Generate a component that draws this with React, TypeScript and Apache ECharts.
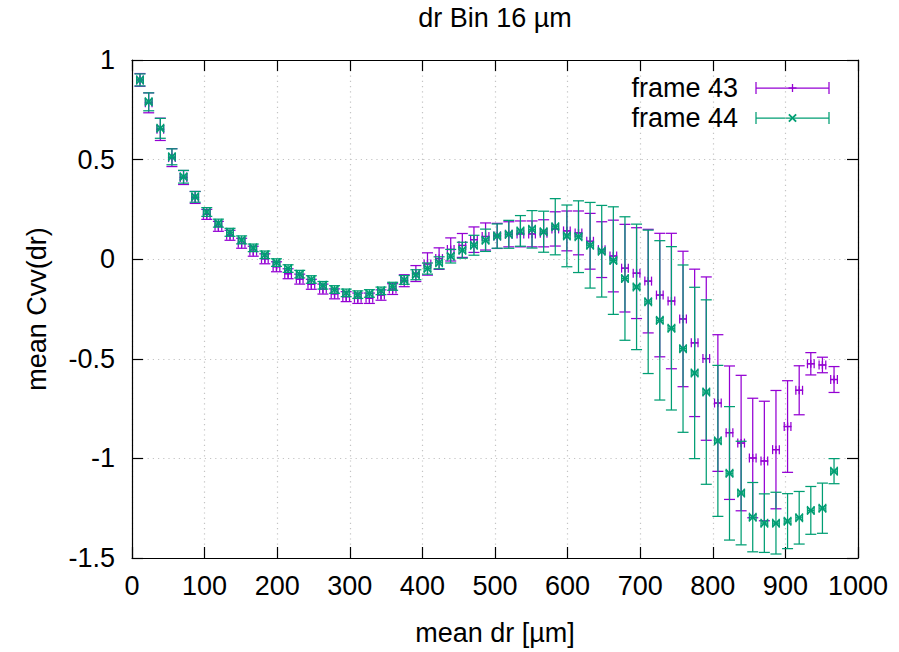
import React, { useEffect, useRef } from "react";
import * as echarts from "echarts";

// mean dr [µm] for each bin (bin width 16 µm)
const meanDr = [
  11, 23, 39, 55, 71, 87, 103, 119, 135, 151, 167, 183, 199, 215, 231, 247, 263, 279, 295, 311,
  327, 343, 359, 375, 391, 407, 423, 439, 455, 471, 487, 503, 519, 535, 551, 567, 583, 599, 615, 631,
  647, 663, 679, 695, 711, 727, 743, 759, 775, 791, 807, 823, 839, 855, 871, 887, 903, 919, 935, 951, 967,
];
// x error (std of dr within bin)
const drErr = [
  4.6, 4.6, 4.6, 4.6, 4.6, 4.6, 4.6, 4.6, 4.6, 4.6, 4.6, 4.6, 4.6, 4.6, 4.6, 4.6, 4.6, 4.6, 4.6, 4.6,
  4.6, 4.6, 4.6, 4.6, 4.6, 4.6, 4.6, 4.6, 4.6, 4.6, 4.6, 4.6, 4.6, 4.6, 4.6, 4.6, 4.6, 4.6, 4.6, 4.6,
  4.6, 4.6, 4.6, 4.6, 4.6, 4.6, 4.6, 4.6, 4.6, 4.6, 4.6, 4.6, 4.6, 4.6, 4.6, 4.6, 4.6, 4.6, 4.6, 4.6, 4.6,
];

// frame 43
const cvv43 = [
  0.9, 0.785, 0.652, 0.51, 0.41, 0.31, 0.225, 0.165, 0.12, 0.08, 0.04, 0.002, -0.038, -0.073, -0.1, -0.126,
  -0.15, -0.174, -0.188, -0.196, -0.196, -0.18, -0.15, -0.108, -0.072, -0.024, 0.003, 0.049, 0.069, 0.098,
  0.114, 0.117, 0.125, 0.127, 0.127, 0.13, 0.152, 0.142, 0.132, 0.09, 0.048, 0.016, -0.045, -0.07, -0.11,
  -0.18, -0.21, -0.3, -0.42, -0.499, -0.722, -0.871, -0.923, -0.998, -1.013, -0.956, -0.84, -0.658, -0.525,
  -0.531, -0.604,
];
const cvv43Err = [
  0.032, 0.05, 0.056, 0.045, 0.035, 0.03, 0.025, 0.025, 0.025, 0.025, 0.025, 0.025, 0.025, 0.025, 0.025,
  0.025, 0.025, 0.025, 0.025, 0.026, 0.026, 0.026, 0.027, 0.03, 0.04, 0.056, 0.054, 0.058, 0.06, 0.064,
  0.068, 0.063, 0.063, 0.065, 0.065, 0.068, 0.086, 0.1, 0.11, 0.14, 0.14, 0.18, 0.22, 0.228, 0.26, 0.31,
  0.34, 0.34, 0.37, 0.41, 0.343, 0.335, 0.34, 0.3, 0.3, 0.297, 0.23, 0.123, 0.056, 0.039, 0.065,
];

// frame 44
const cvv44 = [
  0.9, 0.79, 0.657, 0.514, 0.414, 0.313, 0.237, 0.181, 0.135, 0.097, 0.057, 0.022, -0.017, -0.047, -0.075,
  -0.102, -0.131, -0.152, -0.169, -0.178, -0.172, -0.159, -0.136, -0.104, -0.078, -0.047, -0.018, 0.015,
  0.045, 0.07, 0.095, 0.116, 0.125, 0.142, 0.15, 0.138, 0.163, 0.117, 0.113, 0.07, 0.04, -0.007, -0.097,
  -0.139, -0.214, -0.307, -0.347, -0.449, -0.571, -0.667, -0.912, -1.075, -1.174, -1.295, -1.325, -1.325,
  -1.315, -1.298, -1.261, -1.25, -1.064,
];
const cvv44Err = [
  0.03, 0.045, 0.05, 0.04, 0.032, 0.027, 0.022, 0.02, 0.02, 0.02, 0.019, 0.019, 0.019, 0.019, 0.019, 0.019,
  0.019, 0.019, 0.019, 0.019, 0.019, 0.019, 0.02, 0.022, 0.025, 0.028, 0.03, 0.034, 0.04, 0.05, 0.056,
  0.061, 0.07, 0.077, 0.094, 0.103, 0.141, 0.155, 0.18, 0.215, 0.23, 0.27, 0.31, 0.315, 0.36, 0.4, 0.41,
  0.42, 0.43, 0.463, 0.379, 0.335, 0.26, 0.174, 0.147, 0.155, 0.138, 0.132, 0.12, 0.126, 0.063,
];

const seriesNames = ["frame 43", "frame 44"];
const colors = ["#9400d3", "#009e73"];
const FONT = "'Liberation Sans', Arial, sans-serif";
const FS = 27;

type Marker = "plus" | "cross";

function markerLines(cx: number, cy: number, kind: Marker, color: string) {
  const s = kind === "plus" ? 4 : 3.6;
  const lw = kind === "plus" ? 1.3 : 1.8;
  if (kind === "plus") {
    return [
      { type: "line", shape: { x1: cx - s, y1: cy, x2: cx + s, y2: cy }, style: { stroke: color, lineWidth: lw } },
      { type: "line", shape: { x1: cx, y1: cy - s, x2: cx, y2: cy + s }, style: { stroke: color, lineWidth: lw } },
    ];
  }
  return [
    { type: "line", shape: { x1: cx - s, y1: cy - s, x2: cx + s, y2: cy + s }, style: { stroke: color, lineWidth: lw } },
    { type: "line", shape: { x1: cx - s, y1: cy + s, x2: cx + s, y2: cy - s }, style: { stroke: color, lineWidth: lw } },
  ];
}

function makeRender(color: string, kind: Marker) {
  return (params: any, api: any) => {
    const x = api.value(0);
    const y = api.value(1);
    const ye = api.value(2);
    const xe = api.value(3);
    const c = api.coord([x, y]);
    const t = api.coord([x, y + ye]);
    const b = api.coord([x, y - ye]);
    const l = api.coord([x - xe, y]);
    const r = api.coord([x + xe, y]);
    const cap = 5.5;
    const xcap = 4.5;
    const lw = 1.25;
    const st = { stroke: color, lineWidth: lw };
    return {
      type: "group",
      children: [
        { type: "line", shape: { x1: c[0], y1: t[1], x2: c[0], y2: b[1] }, style: st },
        { type: "line", shape: { x1: c[0] - cap, y1: t[1], x2: c[0] + cap, y2: t[1] }, style: st },
        { type: "line", shape: { x1: c[0] - cap, y1: b[1], x2: c[0] + cap, y2: b[1] }, style: st },
        { type: "line", shape: { x1: l[0], y1: c[1], x2: r[0], y2: c[1] }, style: st },
        { type: "line", shape: { x1: l[0], y1: c[1] - xcap, x2: l[0], y2: c[1] + xcap }, style: st },
        { type: "line", shape: { x1: r[0], y1: c[1] - xcap, x2: r[0], y2: c[1] + xcap }, style: st },
        ...markerLines(c[0], c[1], kind, color),
      ],
    };
  };
}

function legendItem(y: number, label: string, color: string, kind: Marker) {
  const x1 = 756;
  const x2 = 829;
  const st = { stroke: color, lineWidth: 1.25 };
  return [
    {
      type: "text",
      x: 738,
      y,
      style: { text: label, align: "right", verticalAlign: "middle", font: `${FS}px ${FONT}`, fill: "#000" },
    },
    { type: "line", shape: { x1, y1: y, x2, y2: y }, style: st },
    { type: "line", shape: { x1, y1: y - 6, x2: x1, y2: y + 6 }, style: st },
    { type: "line", shape: { x1: x2, y1: y - 6, x2, y2: y + 6 }, style: st },
    ...markerLines((x1 + x2) / 2, y, kind, color),
  ];
}

export default function App() {
  const ref = useRef<HTMLDivElement>(null);
  useEffect(() => {
    if (!ref.current) return;
    const chart = echarts.init(ref.current, null, { renderer: "svg" });
    const d43 = meanDr.map((x, i) => [x, cvv43[i], cvv43Err[i], drErr[i]]);
    const d44 = meanDr.map((x, i) => [x, cvv44[i], cvv44Err[i], drErr[i]]);
    const axisLineStyle = { color: "#000", width: 1.2 };
    const labelStyle = { fontSize: FS, color: "#000", fontFamily: FONT, formatter: (v: number) => String(v) };
    const gridLine = { show: true, lineStyle: { color: "#c4c4c4", type: [1.2, 4] as any, width: 1.2 } };
    const option: any = {
      animation: false,
      grid: { left: 132, right: 41, top: 60, bottom: 94 },
      xAxis: [
        {
          type: "value", min: 0, max: 1000, interval: 100, position: "bottom",
          axisLine: { show: true, onZero: false, lineStyle: axisLineStyle },
          axisTick: { show: true, inside: true, length: 11, lineStyle: axisLineStyle },
          axisLabel: { margin: 14, ...labelStyle },
          splitLine: gridLine,
        },
        {
          type: "value", min: 0, max: 1000, interval: 100, position: "top",
          axisLine: { show: true, onZero: false, lineStyle: axisLineStyle },
          axisTick: { show: true, inside: true, length: 11, lineStyle: axisLineStyle },
          axisLabel: { show: false },
          splitLine: { show: false },
        },
      ],
      yAxis: [
        {
          type: "value", min: -1.5, max: 1, interval: 0.5, position: "left",
          axisLine: { show: true, onZero: false, lineStyle: axisLineStyle },
          axisTick: { show: true, inside: true, length: 11, lineStyle: axisLineStyle },
          axisLabel: { margin: 17, ...labelStyle },
          splitLine: gridLine,
        },
        {
          type: "value", min: -1.5, max: 1, interval: 0.5, position: "right",
          axisLine: { show: true, onZero: false, lineStyle: axisLineStyle },
          axisTick: { show: true, inside: true, length: 11, lineStyle: axisLineStyle },
          axisLabel: { show: false },
          splitLine: { show: false },
        },
      ],
      series: [
        {
          name: seriesNames[0], type: "custom", xAxisIndex: 0, yAxisIndex: 0,
          renderItem: makeRender(colors[0], "plus"), data: d43, encode: { x: 0, y: 1 }, z: 3,
        },
        {
          name: seriesNames[1], type: "custom", xAxisIndex: 0, yAxisIndex: 0,
          renderItem: makeRender(colors[1], "cross"), data: d44, encode: { x: 0, y: 1 }, z: 4,
        },
      ],
      graphic: [
        {
          type: "text", x: 495, y: 18,
          style: { text: "dr Bin 16 µm", align: "center", verticalAlign: "middle", font: `${FS}px ${FONT}`, fill: "#000" },
        },
        {
          type: "text", x: 495, y: 633,
          style: { text: "mean dr [µm]", align: "center", verticalAlign: "middle", font: `${FS}px ${FONT}`, fill: "#000" },
        },
        {
          type: "text", x: 37, y: 309, rotation: Math.PI / 2,
          style: { text: "mean Cvv(dr)", align: "center", verticalAlign: "middle", font: `${FS}px ${FONT}`, fill: "#000" },
        },
        ...legendItem(88, seriesNames[0], colors[0], "plus"),
        ...legendItem(118, seriesNames[1], colors[1], "cross"),
      ],
    };
    chart.setOption(option);
    return () => chart.dispose();
  }, []);
  return (
    <div
      ref={ref}
      style={{ position: "fixed", left: 0, top: 0, width: 899, height: 652, background: "#fff" }}
    />
  );
}
